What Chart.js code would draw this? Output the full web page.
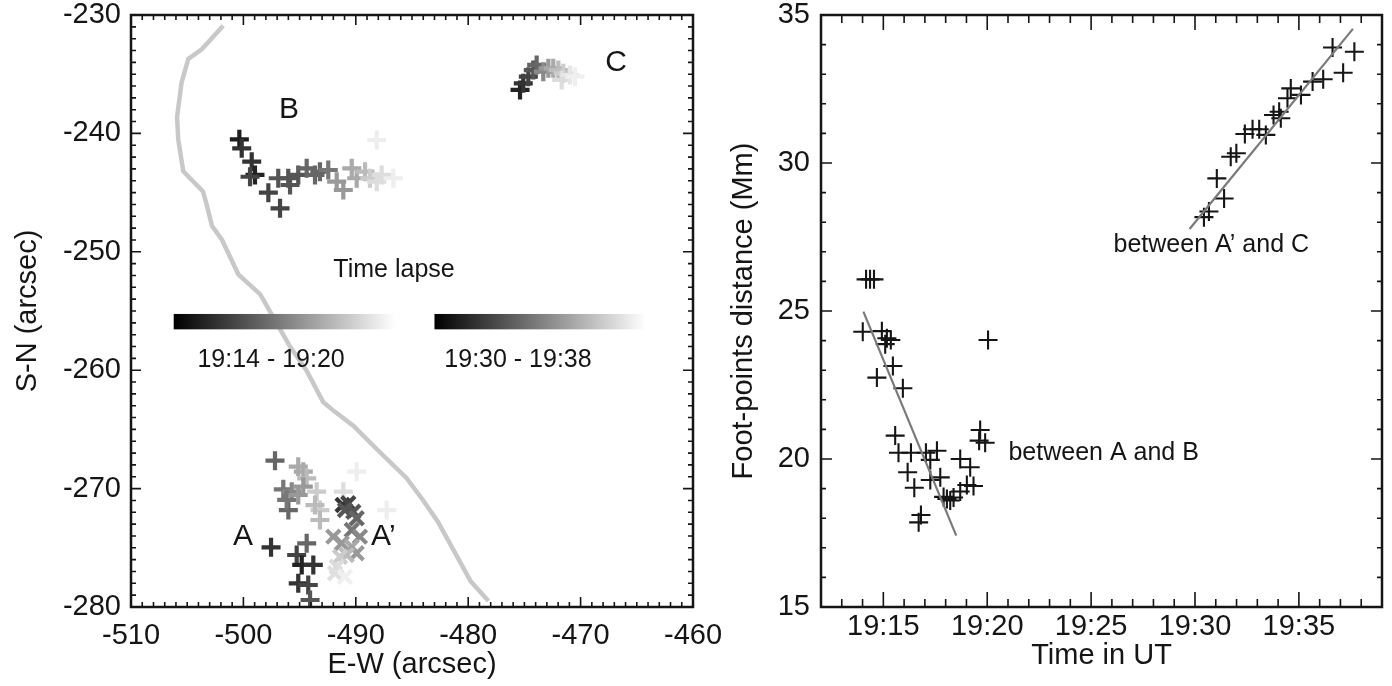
<!DOCTYPE html>
<html><head><meta charset="utf-8">
<script src="https://cdn.jsdelivr.net/npm/chart.js@4.4.1/dist/chart.umd.min.js"></script>
<style>
html,body{margin:0;padding:0;background:#fff;}
body{width:1392px;height:686px;position:relative;overflow:hidden;}
.w{position:absolute;top:0;}
</style></head><body>
<div class="w" style="left:0;width:740px;height:686px"><canvas id="c1" width="740" height="686"></canvas></div>
<div class="w" style="left:700px;width:692px;height:686px"><canvas id="c2" width="692" height="686"></canvas></div>
<script>
// ---------------- LEFT PANEL DATA (arcsec) ----------------
const X1_TICKS = [-510, -500, -490, -480, -470, -460];
const Y1_TICKS = [-280, -270, -260, -250, -240, -230];
// gray neutral line
const curveX = [-501.8,-503.7,-504.9,-505.5,-505.9,-505.8,-505.35,-503.6,-503.3,-502.8,-501.9,-500.45,-498.5,-497.3,-495.85,-494.4,-492.9,-492.0,-490.2,-488.1,-485.5,-484.0,-482.7,-481.3,-479.8,-478.2];
const curveY = [-230.9,-232.9,-233.7,-235.7,-238.6,-240.5,-243.2,-244.9,-245.9,-247.8,-249.0,-251.9,-253.6,-255.6,-258.0,-260.0,-262.7,-263.4,-264.7,-266.7,-269.1,-271.0,-272.8,-275.2,-277.8,-279.5];
// foot-point B (19:14-19:20), time in minutes after 19:00
const bX = [-500.36,-500.15,-499.26,-498.97,-499.41,-497.78,-496.74,-496.9,-496.01,-495.85,-495.12,-494.37,-493.63,-493.19,-492.45,-491.7,-491.11,-490.36,-489.92,-489.18,-488.74,-488.14,-487.7,-486.66,-488.14];
const bY = [-240.5,-241.26,-242.39,-243.51,-243.66,-245.01,-246.33,-243.79,-243.79,-244.36,-243.51,-242.95,-243.51,-243.23,-243.09,-244.08,-244.78,-242.95,-243.79,-243.23,-243.79,-244.08,-243.51,-243.79,-240.56];
const bT = [14.7,15.2,15.2,14.8,15.6,15.6,15.6,16.0,16.0,16.0,16.0,16.4,16.4,16.4,16.8,17.6,17.6,18.0,18.0,18.4,18.8,19.2,19.2,19.6,19.6];
// foot-point A (19:14-19:20)
const aX = [-497.19,-495.12,-494.67,-494.37,-496.45,-495.70,-495.12,-494.67,-496.0,-496.15,-493.48,-493.19,-493.63,-493.19,-489.92,-491.11,-487.25,-497.54,-494.37,-495.26,-494.81,-493.78,-495.12,-494.23,-494.07];
const aY = [-267.64,-268.15,-268.57,-269.13,-270.06,-270.26,-270.54,-269.84,-271.81,-270.96,-270.26,-271.81,-271.39,-272.65,-268.57,-270.26,-271.81,-274.96,-274.62,-275.61,-276.45,-276.45,-278.0,-278.14,-279.41];
const aT = [16.4,18.0,18.0,18.4,16.8,17.2,17.6,17.6,16.4,16.8,18.8,18.8,18.4,18.4,19.6,19.2,19.6,15.2,16.4,15.6,14.8,15.2,15.2,15.6,16.0];
// foot-point A' (19:30-19:38)
const apX = [-491.17,-490.67,-490.96,-490.22,-489.92,-490.36,-489.63,-492.0,-491.25,-490.36,-489.92,-490.81,-491.41,-491.7,-491.85,-490.96];
const apY = [-271.39,-271.24,-271.81,-271.95,-272.51,-273.5,-274.06,-274.06,-274.62,-274.91,-275.46,-275.61,-275.75,-276.6,-277.15,-277.44];
const apT = [31.6,32.1,32.7,32.7,33.2,33.7,34.3,34.8,34.8,35.3,34.8,35.9,36.4,36.9,37.0,37.5];
// foot-point C (19:30-19:38)
const cX = [-475.39,-475.1,-474.65,-474.21,-473.91,-473.32,-472.87,-472.43,-471.98,-471.54,-471.68,-470.94,-470.5];
const cY = [-236.33,-235.77,-235.21,-234.65,-234.22,-234.79,-234.5,-234.5,-234.65,-234.92,-235.49,-235.07,-235.21];
const cT = [31.1,31.6,32.1,32.7,33.2,34.3,34.8,35.3,35.9,36.4,36.9,37.2,37.5];
// time-lapse ranges (minutes after 19:00)
const RANGE1 = [14, 20];
const RANGE2 = [30, 38];
// colour bars (arcsec extents)
const BAR1_X = [-506.2, -486.5];
const BAR2_X = [-483.0, -464.2];
const BAR_Y = [-255.25, -256.55];
// text labels in data coords
const L_TEXT = ['B', 'C', 'A', 'A\u2019', 'Time lapse', '19:14 - 19:20', '19:30 - 19:38'];
const L_TX = [-495.94, -466.85, -500.04, -487.55, -486.6, -497.54, -475.57];
const L_TY = [-238.02, -234.05, -274.09, -274.09, -251.54, -259.14, -259.14];

// ---------------- RIGHT PANEL DATA ----------------
const X2_TICKS = [15, 20, 25, 30, 35];
const Y2_TICKS = [15, 20, 25, 30, 35];
const abT = [14.01,14.17,14.36,14.55,14.69,14.93,15.09,15.17,15.36,15.46,15.57,15.73,15.94,16.17,16.33,16.49,16.70,16.81,17.05,17.26,17.26,17.58,17.74,17.90,18.06,18.22,18.38,18.70,18.70,19.02,19.18,19.34,19.61,19.66,19.90,20.04];
const abD = [24.30,26.07,26.07,26.07,22.75,24.32,23.88,24.08,24.02,23.14,20.79,20.21,22.39,19.55,20.21,19.03,17.86,18.11,20.21,19.97,19.29,20.28,19.38,18.72,18.65,18.60,18.70,18.90,20.00,19.12,19.72,19.09,20.62,20.98,20.55,24.02];
const acT = [30.43,30.67,31.05,31.40,31.72,31.99,32.40,32.77,33.09,33.41,33.78,34.05,34.13,34.45,34.61,35.10,35.66,36.17,36.62,37.13,37.67];
const acD = [28.17,28.36,29.48,28.80,30.21,30.33,30.98,31.14,31.14,30.95,31.62,31.73,31.51,32.19,32.52,32.30,32.75,32.83,33.90,33.05,33.76];
const abFitT = [14.04, 18.51], abFitD = [24.98, 17.41];
const acFitT = [29.74, 37.60], acFitD = [27.77, 34.53];
const R_TEXT = ['between A and B', 'between A\u2019 and C'];
const R_TX = [21.02, 26.08];
const R_TY = [20.2, 27.23];

// ---------------- helpers ----------------
const FONT = "'Liberation Sans', Arial, Helvetica, sans-serif";
Chart.defaults.font.family = FONT;
const INK = '#151515';
const pts = (xs, ys) => xs.map((v, i) => ({x: v, y: ys[i]}));
const grayOf = (t, r) => {
  const g = Math.max(0, Math.min(255, Math.round(255 * (t - r[0]) / (r[1] - r[0]))));
  return `rgb(${g},${g},${g})`;
};

const boxTicks = {
  id: 'boxTicks',
  afterDraw(chart, args, o) {
    const {ctx, chartArea: a} = chart;
    const x = chart.scales.x, y = chart.scales.y;
    ctx.save();
    ctx.strokeStyle = INK;
    ctx.lineWidth = 1.6;
    ctx.beginPath();
    const nx = Math.round((x.max - x.min) / o.xMinor);
    for (let i = 0; i <= nx; i++) {
      const v = x.min + i * o.xMinor;
      const major = Math.abs(v % o.xMajor) < 1e-6;
      const L = major ? o.xMajLen : o.xMinLen;
      const px = x.getPixelForValue(v);
      ctx.moveTo(px, a.bottom); ctx.lineTo(px, a.bottom - L);
      ctx.moveTo(px, a.top); ctx.lineTo(px, a.top + L);
    }
    const ny = Math.round((y.max - y.min) / o.yMinor);
    for (let i = 0; i <= ny; i++) {
      const v = y.min + i * o.yMinor;
      const major = Math.abs(v % o.yMajor) < 1e-6;
      const L = major ? o.yMajLen : o.yMinLen;
      const py = y.getPixelForValue(v);
      ctx.moveTo(a.left, py); ctx.lineTo(a.left + L, py);
      ctx.moveTo(a.right, py); ctx.lineTo(a.right - L, py);
    }
    ctx.stroke();
    ctx.lineWidth = 2.5;
    ctx.strokeRect(a.left, a.top, a.right - a.left, a.bottom - a.top);
    ctx.restore();
  }
};

const annot = {
  id: 'annot',
  afterDatasetsDraw(chart, args, o) {
    const {ctx} = chart;
    const x = chart.scales.x, y = chart.scales.y;
    ctx.save();
    (o.bars || []).forEach(bx => {
      const px0 = x.getPixelForValue(bx[0]), px1 = x.getPixelForValue(bx[1]);
      const py0 = y.getPixelForValue(o.barY[0]), py1 = y.getPixelForValue(o.barY[1]);
      const g = ctx.createLinearGradient(px0, 0, px1, 0);
      g.addColorStop(0, '#000'); g.addColorStop(1, '#fff');
      ctx.fillStyle = g;
      ctx.fillRect(px0, py0, px1 - px0, py1 - py0);
    });
    ctx.fillStyle = INK;
    ctx.textBaseline = 'middle';
    o.text.forEach((s, i) => {
      ctx.font = `${o.sizes[i]}px ${FONT}`;
      ctx.textAlign = o.align[i];
      ctx.fillText(s, x.getPixelForValue(o.tx[i]), y.getPixelForValue(o.ty[i]));
    });
    ctx.restore();
  }
};

const tickFont = {size: 29};
const titleFont = {size: 29};
const noPad = s => { s.paddingTop = 0; s.paddingBottom = 0; s.paddingLeft = 0; s.paddingRight = 0; };
function axisCommon(ticksArr, fmt, pad) {
  return {
    type: 'linear',
    afterBuildTicks: s => { s.ticks = ticksArr.map(v => ({value: v})); },
    grid: {display: false, drawTicks: false},
    border: {display: false},
    ticks: {font: tickFont, color: INK, padding: pad, callback: fmt, autoSkip: false, maxRotation: 0}
  };
}

// ---------------- LEFT CHART ----------------
const cross = (xs, ys, ts, rng, style, ord) => ({
  type: 'scatter', data: pts(xs, ys), order: ord,
  pointStyle: style, pointRadius: 9.5, pointBorderWidth: 4.2,
  pointBorderColor: ts.map(t => grayOf(t, rng)), pointBackgroundColor: 'rgba(0,0,0,0)',
  pointHoverRadius: 9.5
});

new Chart(document.getElementById('c1'), {
  type: 'scatter',
  data: {datasets: [
    {type: 'line', data: pts(curveX, curveY), order: 10, borderColor: '#c8c8c8', borderWidth: 4.5, pointRadius: 0, tension: 0, fill: false},
    cross(aX, aY, aT, RANGE1, 'cross', 5),
    cross(bX, bY, bT, RANGE1, 'cross', 5),
    cross(apX, apY, apT, RANGE2, 'crossRot', 3),
    cross(cX, cY, cT, RANGE2, 'cross', 3)
  ]},
  options: {
    responsive: false, animation: false, devicePixelRatio: 1,
    layout: {padding: {left: 0, top: 15, right: 47, bottom: 0}, autoPadding: false},
    plugins: {
      legend: {display: false}, tooltip: {enabled: false},
      boxTicks: {xMinor: 1, xMajor: 10, xMajLen: 10, xMinLen: 5, yMinor: 1, yMajor: 10, yMajLen: 10, yMinLen: 5},
      annot: {bars: [BAR1_X, BAR2_X], barY: BAR_Y, text: L_TEXT, tx: L_TX, ty: L_TY,
              sizes: [30, 30, 30, 30, 25, 25, 25], align: ['center','center','center','center','center','center','center']}
    },
    scales: {
      x: Object.assign(axisCommon(X1_TICKS, v => String(v), 12), {
        min: -510, max: -460,
        afterFit: s => { s.height = 79; noPad(s); },
        title: {display: true, text: 'E-W (arcsec)', color: INK, font: titleFont, padding: {top: 0, bottom: 4}}
      }),
      y: Object.assign(axisCommon(Y1_TICKS, v => String(v), 10), {
        min: -280, max: -230,
        afterFit: s => { s.width = 131; noPad(s); },
        title: {display: true, text: 'S-N (arcsec)', color: INK, font: titleFont, padding: {top: 11, bottom: 0}}
      })
    }
  },
  plugins: [boxTicks, annot]
});

// ---------------- RIGHT CHART ----------------
const plus = (xs, ys, ord) => ({
  type: 'scatter', data: pts(xs, ys), order: ord,
  pointStyle: 'cross', pointRadius: 9.5, pointBorderWidth: 2.1,
  pointBorderColor: INK, pointBackgroundColor: 'rgba(0,0,0,0)', pointHoverRadius: 9.5
});
const fit = (xs, ys) => ({type: 'line', data: pts(xs, ys), order: 1, borderColor: '#7a7a7a', borderWidth: 2.2, pointRadius: 0, fill: false});

new Chart(document.getElementById('c2'), {
  type: 'scatter',
  data: {datasets: [
    plus(abT, abD, 2),
    plus(acT, acD, 2),
    fit(abFitT, abFitD),
    fit(acFitT, acFitD)
  ]},
  options: {
    responsive: false, animation: false, devicePixelRatio: 1,
    layout: {padding: {left: 0, top: 15, right: 10, bottom: 0}, autoPadding: false},
    plugins: {
      legend: {display: false}, tooltip: {enabled: false},
      boxTicks: {xMinor: 1, xMajor: 5, xMajLen: 15, xMinLen: 8, yMinor: 1, yMajor: 5, yMajLen: 11, yMinLen: 5},
      annot: {text: R_TEXT, tx: R_TX, ty: R_TY, sizes: [25, 25], align: ['left', 'left']}
    },
    scales: {
      x: Object.assign(axisCommon(X2_TICKS, v => '19:' + String(v).padStart(2, '0'), 3), {
        min: 12, max: 39,
        afterFit: s => { s.height = 79; noPad(s); },
        title: {display: true, text: 'Time in UT', color: INK, font: titleFont, padding: {top: 0, bottom: 13}}
      }),
      y: Object.assign(axisCommon(Y2_TICKS, v => String(v), 11), {
        min: 15, max: 35,
        afterFit: s => { s.width = 121; noPad(s); },
        title: {display: true, text: 'Foot-points distance (Mm)', color: INK, font: titleFont, padding: {top: 27, bottom: 0}}
      })
    }
  },
  plugins: [boxTicks, annot]
});
</script></body></html>
